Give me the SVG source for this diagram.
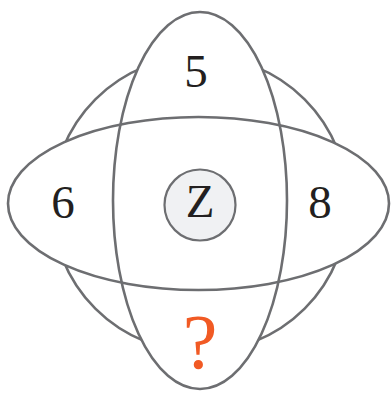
<svg xmlns="http://www.w3.org/2000/svg" width="391" height="393" viewBox="0 0 391 393">
<style>
.ring{fill:none;stroke:#6d6e71;stroke-width:2.6}
.mask{fill:#ffffff;stroke:none}
.lbl{font-family:"Liberation Serif","Times New Roman",serif;fill:#231f20;text-anchor:middle}
</style>
<defs>
<ellipse id="he" cx="198.5" cy="203.5" rx="190.5" ry="86.5"/>
<ellipse id="ve" cx="200" cy="200.5" rx="87" ry="188.5"/>
</defs>
<rect width="391" height="393" fill="#ffffff"/>
<g id="connectors">
<circle id="outer-circle" class="ring" cx="200" cy="204" r="148"/>
<use href="#he" class="mask"/>
<use href="#ve" class="mask"/>
<use id="h-ellipse" href="#he" class="ring"/>
<use id="v-ellipse" href="#ve" class="ring"/>
</g>
<g id="node-z">
<circle cx="200" cy="205" r="35.5" fill="#f0f1f3" stroke="#6d6e71" stroke-width="2.2"/>
<text class="lbl" x="200" y="217" font-size="47">Z</text>
</g>
<g id="node-5"><text class="lbl" x="196" y="87" font-size="47">5</text></g>
<g id="node-6"><text class="lbl" x="63" y="218" font-size="47">6</text></g>
<g id="node-8"><text class="lbl" x="320" y="218" font-size="47">8</text></g>
<g id="node-q"><text class="lbl" x="200" y="368" font-size="78" style="fill:#f15a24">?</text></g>
</svg>
